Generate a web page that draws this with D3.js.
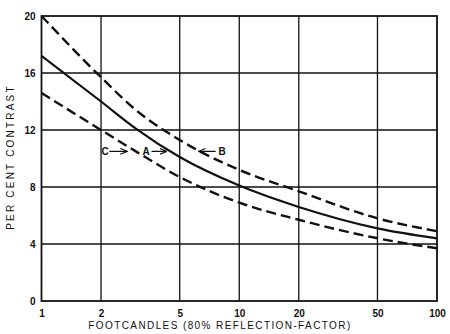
<!DOCTYPE html>
<html>
<head>
<meta charset="utf-8">
<script src="https://cdn.jsdelivr.net/npm/d3@7"></script>
<style>
  body { margin: 0; background: #fff; }
  text { font-family: "Liberation Sans", Arial, sans-serif; fill: #111; }
</style>
</head>
<body>
<div id="chart"></div>
<script>
// footcandle values sampled along the curves
var footcandles = [1, 2, 3, 5, 10, 20, 50, 100];
var curveA = [17.2, 14.0, 12.1, 10.1, 8.1, 6.6, 5.1, 4.4];
var curveB = [20.0, 15.7, 13.4, 11.3, 9.2, 7.7, 5.8, 4.9];
var curveC = [14.6, 12.0, 10.5, 8.7, 6.9, 5.7, 4.4, 3.7];
var xTicks = [1, 2, 5, 10, 20, 50, 100];
var yTicks = [0, 4, 8, 12, 16, 20];

// curve labels: letter position and arrow (in footcandles)
var labelNames = ["C", "A", "B"];
var labelAt = [2.1, 3.38, 8.2];
var arrowFrom = [2.2, 3.6, 7.6];
var arrowTo = [2.7, 4.27, 6.26];
var labelY = 10.5;

var margin = { top: 16, right: 13, bottom: 33, left: 41.5 },
    width = 450 - margin.left - margin.right,
    height = 334 - margin.top - margin.bottom;

var x = d3.scaleLog().domain([1, 100]).range([0, width]);
var y = d3.scaleLinear().domain([0, 20]).range([height, 0]);

var svg = d3.select("#chart").append("svg")
    .attr("width", 450)
    .attr("height", 334)
    .append("g")
    .attr("transform", "translate(" + margin.left + "," + margin.top + ")");

// grid lines
svg.selectAll(".vgrid")
    .data(xTicks.slice(1, -1))
    .enter().append("line")
    .attr("x1", function (d) { return x(d); })
    .attr("x2", function (d) { return x(d); })
    .attr("y1", 0).attr("y2", height)
    .attr("stroke", "#111").attr("stroke-width", 1.3);

svg.selectAll(".hgrid")
    .data(yTicks.slice(1, -1))
    .enter().append("line")
    .attr("x1", 0).attr("x2", width)
    .attr("y1", function (d) { return y(d); })
    .attr("y2", function (d) { return y(d); })
    .attr("stroke", "#111").attr("stroke-width", 1.3);

// frame
svg.append("rect")
    .attr("width", width).attr("height", height)
    .attr("fill", "none").attr("stroke", "#111").attr("stroke-width", 1.8);

// axes (labels only)
var xAxis = svg.append("g")
    .attr("transform", "translate(0," + height + ")")
    .call(d3.axisBottom(x).tickValues(xTicks).tickFormat(d3.format("d")).tickSize(0).tickPadding(9));
var yAxis = svg.append("g")
    .call(d3.axisLeft(y).tickValues(yTicks).tickSize(0).tickPadding(6));
[xAxis, yAxis].forEach(function (a) {
    a.select(".domain").remove();
    a.selectAll("text")
        .style("font-size", "10px")
        .style("font-family", '"Liberation Sans", Arial, sans-serif')
        .style("font-weight", "700")
        .attr("fill", "#111");
});

// curves
var line = d3.line()
    .x(function (d, i) { return x(footcandles[i]); })
    .y(function (d) { return y(d); })
    .curve(d3.curveMonotoneX);

svg.append("path").datum(curveA)
    .attr("d", line).attr("fill", "none")
    .attr("stroke", "#111").attr("stroke-width", 2.2);
[curveB, curveC].forEach(function (c) {
    svg.append("path").datum(c)
        .attr("d", line).attr("fill", "none")
        .attr("stroke", "#111").attr("stroke-width", 2.4)
        .attr("stroke-dasharray", "10,5");
});

// curve labels with arrows
svg.append("defs").append("marker")
    .attr("id", "arrow")
    .attr("viewBox", "0 0 10 10")
    .attr("refX", 9).attr("refY", 5)
    .attr("markerWidth", 6).attr("markerHeight", 6)
    .attr("orient", "auto")
    .append("path").attr("d", "M0,1 L10,5 L0,9").attr("fill", "none")
    .attr("stroke", "#111").attr("stroke-width", 1.5);

svg.selectAll(".clabel")
    .data(labelNames)
    .enter().append("text")
    .attr("x", function (d, i) { return x(labelAt[i]); })
    .attr("y", y(labelY) + 4)
    .attr("text-anchor", "middle")
    .style("font-size", "10px").style("font-weight", "700")
    .text(function (d) { return d; });

svg.selectAll(".arrow")
    .data(labelNames)
    .enter().append("line")
    .attr("x1", function (d, i) { return x(arrowFrom[i]); })
    .attr("x2", function (d, i) { return x(arrowTo[i]); })
    .attr("y1", y(labelY)).attr("y2", y(labelY))
    .attr("stroke", "#111").attr("stroke-width", 1.2)
    .attr("marker-end", "url(#arrow)");

// axis titles
svg.append("text")
    .attr("transform", "translate(" + (14 - margin.left) + "," + (157 - margin.top) + ") rotate(-90)")
    .attr("text-anchor", "middle")
    .style("font-size", "10px")
    .style("letter-spacing", "2.2px")
    .text("PER CENT CONTRAST");

svg.append("text")
    .attr("x", 220 - margin.left)
    .attr("y", 329 - margin.top)
    .attr("text-anchor", "middle")
    .style("font-size", "10px")
    .style("letter-spacing", "1.4px")
    .text("FOOTCANDLES (80% REFLECTION-FACTOR)");
</script>
</body>
</html>
